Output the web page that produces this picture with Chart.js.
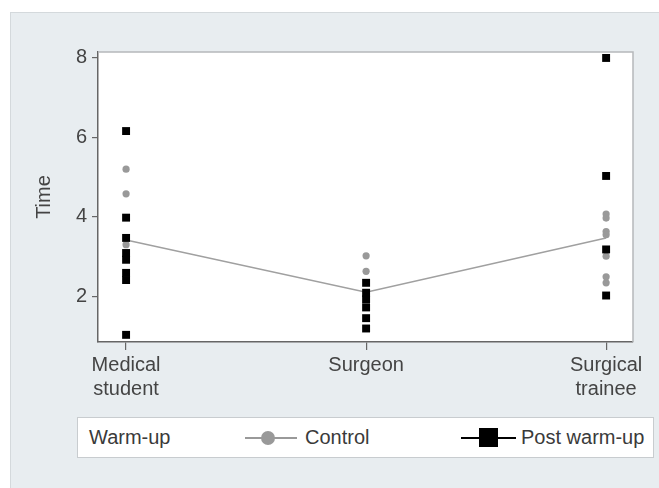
<!DOCTYPE html>
<html>
<head>
<meta charset="utf-8">
<script src="https://cdn.jsdelivr.net/npm/chart.js@4"></script>
<style>
  body { margin: 0; background: #fff; }
  #wrap { position: relative; width: 659px; height: 488px; background: #fff; overflow: hidden; }
  #panel { position: absolute; left: 10px; top: 12px; right: 0; bottom: 0;
           background: #e8edf0; border-left: 1px solid #d4d9dc; border-top: 1px solid #d4d9dc; }
  #chartBox { position: absolute; left: 0; top: 0; width: 659px; height: 488px; }
  #legend { position: absolute; left: 77px; top: 417px; width: 577px; height: 41px;
            background: #fff; border: 1px solid #c8cccf; box-sizing: border-box;
            font-family: "Liberation Sans", Arial, sans-serif; font-size: 20px; color: #3a3a3a; }
  #legend span { position: absolute; }
  .txt { top: 8px; }
  .ln { height: 2px; top: 19px; }
</style>
</head>
<body>
<div id="wrap">
  <div id="panel"></div>
  <div id="chartBox"><canvas id="chart"></canvas></div>
  <div id="legend">
    <span class="txt" style="left:11px">Warm-up</span>
    <span class="ln" style="left:167px; width:52px; background:#999"></span>
    <span style="left:183px; top:13px; width:14px; height:14px; border-radius:50%; background:#999"></span>
    <span class="txt" style="left:227px">Control</span>
    <span class="ln" style="left:383px; width:55px; background:#000"></span>
    <span style="left:401px; top:10px; width:19px; height:19px; background:#000"></span>
    <span class="txt" style="left:443px">Post warm-up</span>
  </div>
</div>
<script>
// Gruppen
const categories = [["Medical", "student"], ["Surgeon"], ["Surgical", "trainee"]];
const yTicks = [2, 4, 6, 8];

// Control (grau)
const controlMedical = [5.2, 4.58, 3.3];
const controlSurgeon = [3.02, 2.63];
const controlTrainee = [4.07, 3.97, 3.63, 3.55, 3.01, 2.49, 2.34];

// Post warm-up (schwarz)
const postMedical = [6.16, 3.98, 3.47, 3.09, 2.92, 2.59, 2.41, 1.03];
const postSurgeon = [2.34, 2.09, 1.92, 1.72, 1.45, 1.19];
const postTrainee = [8.0, 5.03, 3.18, 2.02];

// Linie durch die Gruppen
const meanLine = [3.42, 2.1, 3.47];

function toPoints(groups) {
  const pts = [];
  groups.forEach((vals, i) => vals.forEach(v => pts.push({ x: i, y: v })));
  return pts;
}

// weisser Plotbereich + helle Rahmenlinien oben/rechts
const plotFrame = {
  id: "plotFrame",
  beforeDraw(chart) {
    const a = chart.chartArea, ctx = chart.ctx;
    ctx.save();
    ctx.fillStyle = "#fff";
    ctx.fillRect(a.left, a.top, a.right - a.left, a.bottom - a.top);
    ctx.restore();
  },
  afterDatasetsDraw(chart) {
    const a = chart.chartArea, ctx = chart.ctx;
    ctx.save();
    ctx.strokeStyle = "#b5b8ba";
    ctx.lineWidth = 1.5;
    ctx.beginPath();
    ctx.moveTo(a.left, a.top);
    ctx.lineTo(a.right, a.top);
    ctx.lineTo(a.right, a.bottom);
    ctx.stroke();
    ctx.restore();
  }
};

const font = { family: "'Liberation Sans', Arial, sans-serif", size: 20 };

new Chart(document.getElementById("chart"), {
  type: "scatter",
  data: {
    datasets: [
      {
        type: "line",
        label: "mean",
        data: meanLine.map((v, i) => ({ x: i, y: v })),
        borderColor: "#a0a0a0",
        borderWidth: 1.5,
        pointRadius: 0,
        order: 3
      },
      {
        label: "Control",
        data: toPoints([controlMedical, controlSurgeon, controlTrainee]),
        backgroundColor: "#999",
        borderWidth: 0,
        pointStyle: "circle",
        pointRadius: 3.6,
        order: 2
      },
      {
        label: "Post warm-up",
        data: toPoints([postMedical, postSurgeon, postTrainee]),
        backgroundColor: "#000",
        borderWidth: 0,
        pointStyle: "rect",
        pointRadius: 5.6,
        order: 1
      }
    ]
  },
  options: {
    responsive: true,
    maintainAspectRatio: false,
    animation: false,
    layout: { autoPadding: false, padding: { top: 52, right: 26, bottom: 76, left: 0 } },
    plugins: { legend: { display: false }, tooltip: { enabled: false } },
    scales: {
      x: {
        type: "linear",
        min: -0.117,
        max: 2.112,
        afterBuildTicks: s => { s.ticks = categories.map((c, i) => ({ value: i })); },
        afterFit: s => { s.height = 70; },
        grid: { drawOnChartArea: false, drawTicks: true, tickLength: 8, color: "#666", lineWidth: 1.2 },
        border: { display: true, color: "#666", width: 1.5 },
        ticks: {
          font: font, color: "#444", padding: 3, maxRotation: 0,
          callback: v => categories[v]
        }
      },
      y: {
        min: 0.85,
        max: 8.15,
        afterBuildTicks: s => { s.ticks = yTicks.map(v => ({ value: v })); },
        afterFit: s => { s.width = 98; },
        grid: { drawOnChartArea: false, drawTicks: true, tickLength: 6, color: "#666", lineWidth: 1.2 },
        border: { display: true, color: "#666", width: 1.5 },
        ticks: { font: font, color: "#444", padding: 5 },
        title: { display: true, text: "Time", font: font, color: "#444", padding: { top: 32, bottom: 0 } }
      }
    }
  },
  plugins: [plotFrame]
});
</script>
</body>
</html>
